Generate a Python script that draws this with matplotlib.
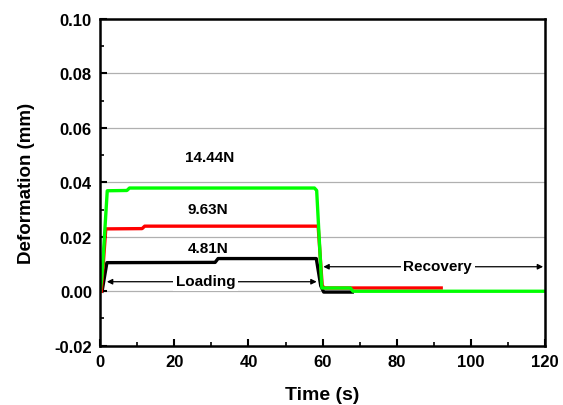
import matplotlib.pyplot as plt

plt.rcParams['font.family'] = ['Liberation Sans', 'DejaVu Sans']
plt.rcParams['font.weight'] = 'bold'

# ---------------- DATA ----------------
t_481 = [0.5, 1.8, 31.0, 31.8, 58.3, 59.5, 60.3, 63.0, 68.0]
d_481 = [0.0, 0.0105, 0.0106, 0.0120, 0.0120, 0.0020, -0.0003, -0.0003, -0.0003]

t_963 = [0.3, 1.5, 11.3, 12.0, 58.8, 59.9, 60.5, 92.0]
d_963 = [0.0, 0.0229, 0.0230, 0.0239, 0.0239, 0.0020, 0.0012, 0.0012]

t_1444 = [0.0, 0.5, 1.9, 7.2, 7.9, 57.8, 58.4, 59.8, 67.5, 68.2, 120.0]
d_1444 = [0.0, 0.006, 0.0369, 0.0370, 0.0379, 0.0379, 0.0370, 0.0012, 0.0012, 0.0, 0.0]

load_labels = ["4.81N", "9.63N", "14.44N"]
label_pos = [(29.1, 0.0158), (28.9, 0.0302), (29.4, 0.0493)]

# ---------------- PLOT ----------------
fig = plt.figure(figsize=(5.63, 4.06), dpi=100)
ax = fig.add_axes([0.178, 0.146, 0.790, 0.805])

for y in [0.0, 0.02, 0.04, 0.06, 0.08]:
    ax.axhline(y, color="#b0b0b0", linewidth=0.9, zorder=0)

ax.plot(t_481, d_481, color="black", linewidth=2.4)
ax.plot(t_963, d_963, color="#ff0000", linewidth=2.4)
ax.plot(t_1444, d_1444, color="#00ff00", linewidth=2.4)

for lab, (x, y) in zip(load_labels, label_pos):
    ax.text(x, y, lab, ha="center", va="center", fontsize=11, fontweight="bold")

# Loading / Recovery arrows
ax.annotate("", xy=(1.8, 0.0035), xytext=(58.4, 0.0035),
            arrowprops=dict(arrowstyle="<|-|>", color="black", lw=0.9,
                            mutation_scale=8, shrinkA=0, shrinkB=0))
ax.text(28.4, 0.0038, "Loading", ha="center", va="center", fontsize=11,
        fontweight="bold", bbox=dict(facecolor="white", edgecolor="none", pad=2))
ax.annotate("", xy=(60.2, 0.009), xytext=(119.5, 0.009),
            arrowprops=dict(arrowstyle="<|-|>", color="black", lw=0.9,
                            mutation_scale=8, shrinkA=0, shrinkB=0))
ax.text(91.1, 0.0092, "Recovery", ha="center", va="center", fontsize=11,
        fontweight="bold", bbox=dict(facecolor="white", edgecolor="none", pad=2))

ax.set_xlim(0, 120)
ax.set_ylim(-0.02, 0.10)
ax.set_xticks(range(0, 121, 20))
ax.set_xticks(range(10, 120, 20), minor=True)
ax.set_yticks([-0.02, 0.0, 0.02, 0.04, 0.06, 0.08, 0.10])
ax.set_yticks([-0.01, 0.01, 0.03, 0.05, 0.07, 0.09], minor=True)
ax.set_yticklabels(["-0.02", "0.00", "0.02", "0.04", "0.06", "0.08", "0.10"])

ax.tick_params(which="major", direction="in", length=5, width=1.5,
               labelsize=12, pad=6)
ax.tick_params(which="minor", direction="in", length=3, width=1.2)
for lbl in ax.get_xticklabels() + ax.get_yticklabels():
    lbl.set_fontweight("bold")
for sp in ax.spines.values():
    sp.set_linewidth(1.8)

ax.set_xlabel("Time (s)", fontsize=14, fontweight="bold", labelpad=12)
ax.set_ylabel("Deformation (mm)", fontsize=13.5, fontweight="bold", labelpad=14)

fig.savefig("out.png", dpi=100)
